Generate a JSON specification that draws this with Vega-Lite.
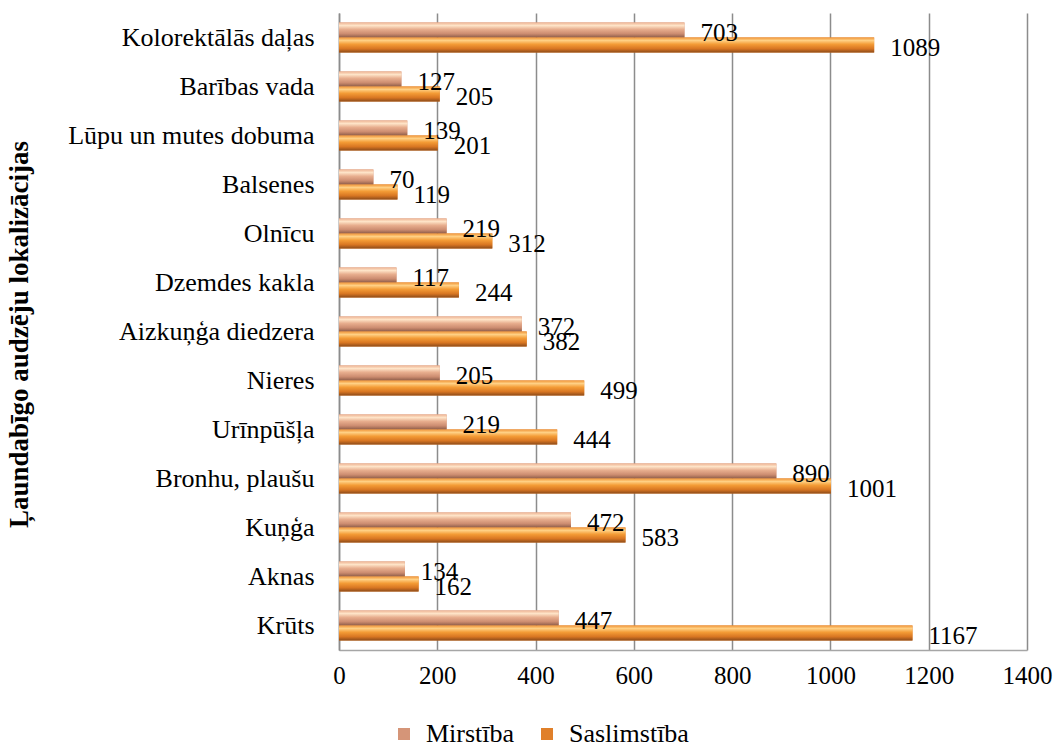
{
  "$schema": "https://vega.github.io/schema/vega-lite/v6.json",
  "autosize": "none",
  "padding": {"left": 339, "top": 13, "right": 29, "bottom": 99},
  "width": 688,
  "height": 637,
  "background": "white",
  "config": {
    "view": {"stroke": null},
    "font": "Liberation Serif"
  },
  "data": {
    "values": [
      {"vieta": "Kolorektālās daļas", "rādītājs": "Mirstība", "skaits": 703},
      {"vieta": "Kolorektālās daļas", "rādītājs": "Saslimstība", "skaits": 1089},
      {"vieta": "Barības vada", "rādītājs": "Mirstība", "skaits": 127},
      {"vieta": "Barības vada", "rādītājs": "Saslimstība", "skaits": 205},
      {"vieta": "Lūpu un mutes dobuma", "rādītājs": "Mirstība", "skaits": 139},
      {"vieta": "Lūpu un mutes dobuma", "rādītājs": "Saslimstība", "skaits": 201},
      {"vieta": "Balsenes", "rādītājs": "Mirstība", "skaits": 70},
      {"vieta": "Balsenes", "rādītājs": "Saslimstība", "skaits": 119},
      {"vieta": "Olnīcu", "rādītājs": "Mirstība", "skaits": 219},
      {"vieta": "Olnīcu", "rādītājs": "Saslimstība", "skaits": 312},
      {"vieta": "Dzemdes kakla", "rādītājs": "Mirstība", "skaits": 117},
      {"vieta": "Dzemdes kakla", "rādītājs": "Saslimstība", "skaits": 244},
      {"vieta": "Aizkuņģa diedzera", "rādītājs": "Mirstība", "skaits": 372},
      {"vieta": "Aizkuņģa diedzera", "rādītājs": "Saslimstība", "skaits": 382},
      {"vieta": "Nieres", "rādītājs": "Mirstība", "skaits": 205},
      {"vieta": "Nieres", "rādītājs": "Saslimstība", "skaits": 499},
      {"vieta": "Urīnpūšļa", "rādītājs": "Mirstība", "skaits": 219},
      {"vieta": "Urīnpūšļa", "rādītājs": "Saslimstība", "skaits": 444},
      {"vieta": "Bronhu, plaušu", "rādītājs": "Mirstība", "skaits": 890},
      {"vieta": "Bronhu, plaušu", "rādītājs": "Saslimstība", "skaits": 1001},
      {"vieta": "Kuņģa", "rādītājs": "Mirstība", "skaits": 472},
      {"vieta": "Kuņģa", "rādītājs": "Saslimstība", "skaits": 583},
      {"vieta": "Aknas", "rādītājs": "Mirstība", "skaits": 134},
      {"vieta": "Aknas", "rādītājs": "Saslimstība", "skaits": 162},
      {"vieta": "Krūts", "rādītājs": "Mirstība", "skaits": 447},
      {"vieta": "Krūts", "rādītājs": "Saslimstība", "skaits": 1167}
    ]
  },
  "encoding": {
    "y": {
      "field": "vieta",
      "type": "nominal",
      "sort": ["Kolorektālās daļas", "Barības vada", "Lūpu un mutes dobuma", "Balsenes", "Olnīcu", "Dzemdes kakla", "Aizkuņģa diedzera", "Nieres", "Urīnpūšļa", "Bronhu, plaušu", "Kuņģa", "Aknas", "Krūts"],
      "scale": {"paddingInner": 0.39, "paddingOuter": 0.195},
      "axis": {
        "title": "Ļaundabīgo audzēju lokalizācijas",
        "titleFont": "Liberation Serif",
        "titleFontSize": 27,
        "titleFontWeight": "bold",
        "titleColor": "black",
        "titleAngle": -90,
        "titleAlign": "center",
        "titleBaseline": "middle",
        "titleX": -320,
        "titleY": 321,
        "labelFont": "Liberation Serif",
        "labelFontSize": 26,
        "labelColor": "black",
        "labelPadding": 25,
        "labelLimit": 0,
        "ticks": false,
        "domainColor": "#8c8c8c",
        "domainWidth": 1.5,
        "grid": false
      }
    },
    "yOffset": {"field": "rādītājs", "type": "nominal", "scale": {"paddingInner": 0, "paddingOuter": 0}},
    "x": {
      "field": "skaits",
      "type": "quantitative",
      "scale": {"domain": [0, 1400], "nice": false},
      "axis": {
        "title": null,
        "values": [0, 200, 400, 600, 800, 1000, 1200, 1400],
        "format": "d",
        "labelFont": "Liberation Serif",
        "labelFontSize": 25,
        "labelColor": "black",
        "labelPadding": 13,
        "ticks": false,
        "domainColor": "#a6a6a6",
        "domainWidth": 1.5,
        "gridColor": "#8c8c8c",
        "gridWidth": 1.5,
        "labelFlush": false
      }
    }
  },
  "layer": [
    {
      "mark": {"type": "bar"},
      "encoding": {
        "color": {
          "field": "rādītājs",
          "type": "nominal",
          "scale": {"domain": ["Mirstība", "Saslimstība"], "range": ["#d59578", "#e0802a"]},
          "legend": {
            "title": null,
            "orient": "none",
            "direction": "horizontal",
            "legendX": 52,
            "legendY": 708,
            "padding": 0,
            "symbolType": "square",
            "symbolSize": 144,
            "symbolStrokeWidth": 0,
            "labelFont": "Liberation Serif",
            "labelFontSize": 26,
            "labelColor": "black",
            "labelOffset": 9,
            "labelLimit": 0,
            "columnPadding": 19
          }
        }
      }
    },
    {
      "transform": [{"filter": "datum['rādītājs'] === 'Mirstība'"}],
      "mark": {
        "type": "bar",
        "fill": {
          "gradient": "linear",
          "x1": 0, "y1": 0, "x2": 0, "y2": 1,
          "stops": [
            {"offset": 0, "color": "#eeb494"},
            {"offset": 0.2, "color": "#fee4c8"},
            {"offset": 0.45, "color": "#e8ae8e"},
            {"offset": 0.75, "color": "#cc8c70"},
            {"offset": 1, "color": "#8e5d49"}
          ]
        }
      }
    },
    {
      "transform": [{"filter": "datum['rādītājs'] === 'Saslimstība'"}],
      "mark": {
        "type": "bar",
        "fill": {
          "gradient": "linear",
          "x1": 0, "y1": 0, "x2": 0, "y2": 1,
          "stops": [
            {"offset": 0, "color": "#f09538"},
            {"offset": 0.2, "color": "#ffd084"},
            {"offset": 0.45, "color": "#f49c36"},
            {"offset": 0.75, "color": "#d87622"},
            {"offset": 1, "color": "#8e4c1a"}
          ]
        }
      }
    },
    {
      "mark": {"type": "text", "align": "left", "baseline": "middle", "dx": 16, "dy": 3, "fontSize": 25, "font": "Liberation Serif", "color": "black"},
      "encoding": {"text": {"field": "skaits", "type": "quantitative"}}
    }
  ]
}
